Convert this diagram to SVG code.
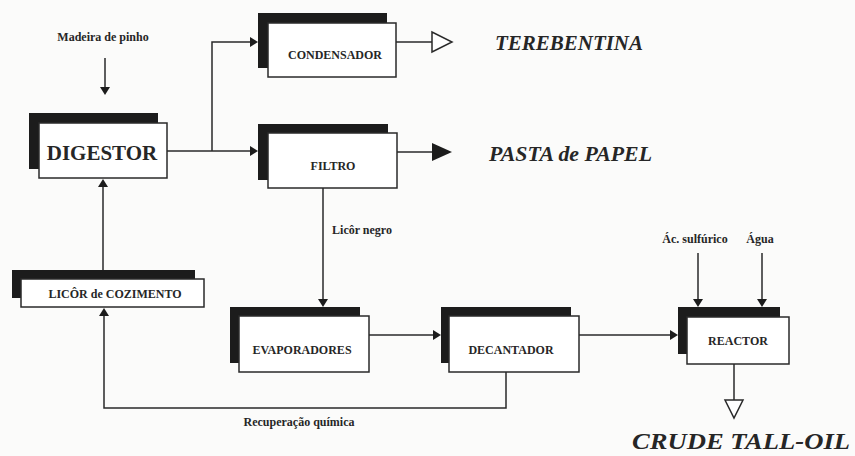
<svg xmlns="http://www.w3.org/2000/svg" width="855" height="456" viewBox="0 0 855 456" font-family="Liberation Serif, Times New Roman, serif">
<defs>
<style>
.shadow{fill:#1c1c1c}
.box{fill:#ffffff;stroke:#2a2a2a;stroke-width:1.5}
.lbl{font-weight:bold;fill:#262626;text-anchor:middle}
.big{font-weight:bold;font-style:italic;fill:#262626}
.ln{fill:none;stroke:#2a2a2a;stroke-width:1.5}
.ah{fill:#1c1c1c}
.oh{fill:#ffffff;stroke:#2a2a2a;stroke-width:1.5}
</style>
</defs>
<rect x="0" y="0" width="855" height="456" fill="#fbfbfa"/>

<g id="connectors">
<path class="ln" d="M105,58 V88"/>
<polygon class="ah" points="100,87 110,87 105,95"/>
<path class="ln" d="M167,151 H251"/>
<polygon class="ah" points="250,146 250,156 258,151"/>
<path class="ln" d="M212,151 V42 H251"/>
<polygon class="ah" points="250,37 250,47 258,42"/>
<path class="ln" d="M396,42 H432"/>
<polygon class="oh" points="432,32 432,52 452,42"/>
<path class="ln" d="M397,152 H433"/>
<polygon class="ah" points="432,143 432,161 452,152"/>
<path class="ln" d="M323,188 V300"/>
<polygon class="ah" points="318,299 328,299 323,307"/>
<path class="ln" d="M103,270 V186"/>
<polygon class="ah" points="98,187 108,187 103,179"/>
<path class="ln" d="M506,372 V408 H104 V315"/>
<polygon class="ah" points="99,316 109,316 104,308"/>
<path class="ln" d="M369,335 H434"/>
<polygon class="ah" points="433,330 433,340 441,335"/>
<path class="ln" d="M579,335 H671"/>
<polygon class="ah" points="670,330 670,340 678,335"/>
<path class="ln" d="M698,253 V300"/>
<polygon class="ah" points="693,299 703,299 698,307"/>
<path class="ln" d="M762,253 V300"/>
<polygon class="ah" points="757,299 767,299 762,307"/>
<path class="ln" d="M734,364 V400"/>
<polygon class="oh" points="725,400 743,400 734,418"/>
</g>

<g id="digestor">
<rect class="shadow" x="29" y="113" width="129" height="56"/>
<rect class="box" x="39" y="123" width="128" height="55"/>
<text class="lbl" x="102" y="160" font-size="21">DIGESTOR</text>
</g>
<g id="condensador" font-size="12">
<rect class="shadow" x="258" y="13" width="129" height="55"/>
<rect class="box" x="268" y="23" width="128" height="54"/>
<text class="lbl" x="335" y="59">CONDENSADOR</text>
</g>
<g id="filtro" font-size="12">
<rect class="shadow" x="258" y="124" width="130" height="56"/>
<rect class="box" x="268" y="133" width="129" height="55"/>
<text class="lbl" x="333" y="170">FILTRO</text>
</g>
<g id="licor" font-size="12">
<rect class="shadow" x="12" y="270" width="183" height="28"/>
<rect class="box" x="21" y="279" width="183" height="28"/>
<text class="lbl" x="115" y="298">LICÔR de COZIMENTO</text>
</g>
<g id="evaporadores" font-size="12">
<rect class="shadow" x="230" y="307" width="130" height="56"/>
<rect class="box" x="239" y="316" width="130" height="56"/>
<text class="lbl" x="302" y="354">EVAPORADORES</text>
</g>
<g id="decantador" font-size="12">
<rect class="shadow" x="441" y="307" width="130" height="56"/>
<rect class="box" x="449" y="316" width="130" height="56"/>
<text class="lbl" x="511" y="354">DECANTADOR</text>
</g>
<g id="reactor" font-size="12">
<rect class="shadow" x="678" y="307" width="102" height="47"/>
<rect class="box" x="687" y="317" width="102" height="47"/>
<text class="lbl" x="738" y="345">REACTOR</text>
</g>

<g id="labels" font-size="12">
<text class="lbl" x="103" y="41">Madeira de pinho</text>
<text class="lbl" x="362" y="234">Licôr negro</text>
<text class="lbl" x="299" y="426">Recuperação química</text>
<text class="lbl" x="695" y="243">Ác. sulfúrico</text>
<text class="lbl" x="760" y="243">Água</text>
<text class="big" x="495" y="50" font-size="21" textLength="148" lengthAdjust="spacingAndGlyphs">TEREBENTINA</text>
<text class="big" x="489" y="161" font-size="20" textLength="163" lengthAdjust="spacingAndGlyphs">PASTA de PAPEL</text>
<text class="big" x="632" y="449" font-size="24" textLength="218" lengthAdjust="spacingAndGlyphs">CRUDE TALL-OIL</text>
</g>
</svg>
